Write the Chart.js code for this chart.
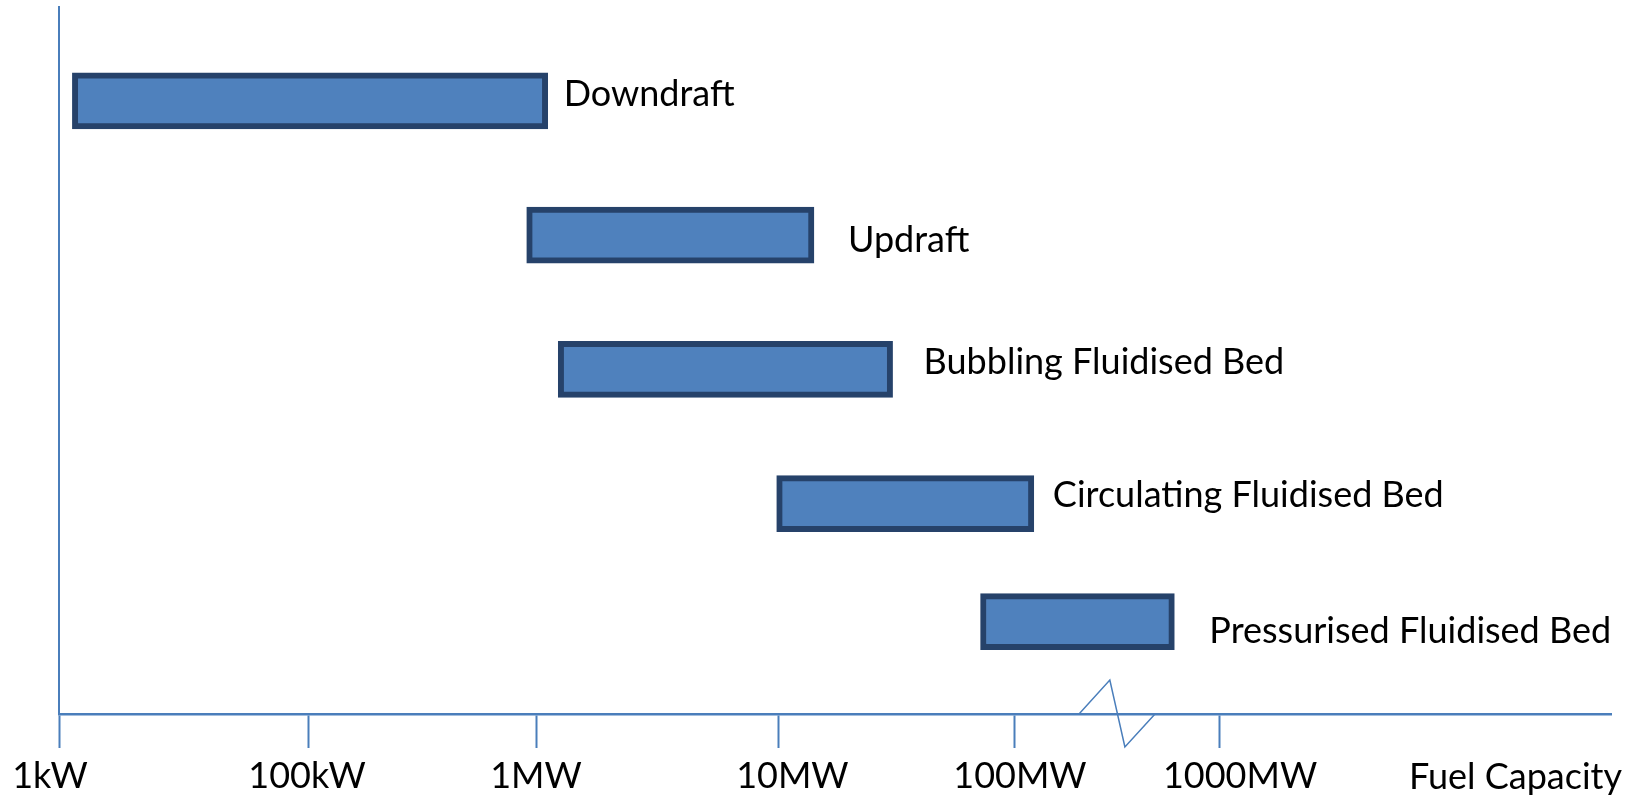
<!DOCTYPE html>
<html>
<head>
<meta charset="utf-8">
<title>Gasifier types by fuel capacity</title>
<style>
  html, body { margin: 0; padding: 0; background: #ffffff; }
  #wrap { width: 1632px; height: 800px; }
</style>
<script src="https://cdn.jsdelivr.net/npm/chart.js@4.4.1/dist/chart.umd.min.js"></script>
</head>
<body>
<div id="wrap"><canvas id="c" width="1632" height="800"></canvas></div>
<script>
// Gasifier types and the span of fuel capacity each one covers.
// Capacity sits on a schematic scale: one unit per tick step (1kW ... 1000MW).
const gasifiers = ['Downdraft', 'Updraft', 'Bubbling Fluidised Bed', 'Circulating Fluidised Bed', 'Pressurised Fluidised Bed'];
const rangeFrom = [0.056, 1.957, 2.089, 3.003, 3.856];
const rangeTo   = [2.045, 3.159, 3.488, 4.079, 4.667];
const rowPos    = [0, 1, 2, 3, 3.88];

const tickLabels = ['1kW', '100kW', '1MW', '10MW', '100MW', '1000MW'];
const tickValues = [0, 1.046, 1.996, 3.010, 4.0, 4.854];
const axisTitle  = 'Fuel Capacity';

const AXIS_BLUE = '#4A7EBB';
const FONT = '"Lato", "Open Sans", sans-serif';

// Type name written just to the right of each bar
const barNames = {
  id: 'barNames',
  afterDatasetsDraw(chart, args, opts) {
    const ctx = chart.ctx;
    const meta = chart.getDatasetMeta(0);
    ctx.save();
    ctx.font = opts.size + 'px ' + FONT;
    ctx.fillStyle = opts.color;
    ctx.textAlign = 'left';
    ctx.textBaseline = 'alphabetic';
    meta.data.forEach((bar, i) => {
      const n = opts.nudge[i] || [0, 0];
      ctx.fillText(gasifiers[i], bar.x + opts.gap + n[0], bar.y + opts.size * 0.36 + n[1]);
    });
    ctx.restore();
  }
};

// Small sideways shifts of the tick labels under the axis
const tickLabelShift = {
  id: 'tickLabelShift',
  beforeDraw(chart, args, opts) {
    const items = chart.scales.x.getLabelItems(chart.chartArea);
    if (items._shifted) return;
    items.forEach((it, i) => { it.options.translation[0] += opts.shift[i] || 0; });
    items._shifted = true;
  }
};

// Axis title at the right end, and the scale-break mark between 100MW and 1000MW
const axisExtras = {
  id: 'axisExtras',
  afterDraw(chart, args, opts) {
    const ctx = chart.ctx;
    const xs = chart.scales.x;
    const yAxis = xs.top;
    ctx.save();
    ctx.font = opts.size + 'px ' + FONT;
    ctx.fillStyle = '#000000';
    ctx.textAlign = 'right';
    ctx.textBaseline = 'alphabetic';
    ctx.fillText(axisTitle, chart.chartArea.right + 11, yAxis + 75);

    ctx.strokeStyle = AXIS_BLUE;
    ctx.lineWidth = 1.5;
    ctx.beginPath();
    opts.breakAt.forEach((v, i) => {
      const px = xs.getPixelForValue(v);
      const py = yAxis + opts.breakRise[i];
      if (i === 0) ctx.moveTo(px, py); else ctx.lineTo(px, py);
    });
    ctx.stroke();
    ctx.restore();
  }
};

new Chart(document.getElementById('c'), {
  type: 'bar',
  data: {
    datasets: [{
      label: 'Fuel capacity range',
      data: gasifiers.map((g, i) => ({ x: [rangeFrom[i], rangeTo[i]], y: rowPos[i] })),
      backgroundColor: '#4F81BD',
      borderColor: '#26426A',
      borderWidth: 6,
      borderSkipped: false,
      barThickness: 56
    }]
  },
  options: {
    indexAxis: 'y',
    responsive: false,
    animation: false,
    devicePixelRatio: 1,
    layout: { padding: { left: 59, right: 21, top: 7, bottom: 0 } },
    plugins: {
      legend: { display: false },
      tooltip: { enabled: false },
      barNames: { size: 36, color: '#000000', gap: 16,
        nudge: [[0, -8], [18, 4], [15, -8], [3, -10], [19, 8]] },
      tickLabelShift: { shift: [-9, -2, 0, 14, 5, 21] },
      axisExtras: { size: 36, breakAt: [4.268, 4.397, 4.460, 4.586], breakRise: [0, -34, 33, 0] }
    },
    scales: {
      x: {
        type: 'linear',
        position: 'bottom',
        min: 0,
        max: 6.494,
        afterBuildTicks: (scale) => { scale.ticks = tickValues.map(v => ({ value: v })); },
        afterFit: (scale) => { scale.height = 86; },
        ticks: {
          autoSkip: false,
          maxRotation: 0,
          padding: 7,
          color: '#000000',
          font: { family: FONT, size: 36 },
          callback: (v, i) => tickLabels[i]
        },
        grid: {
          display: true,
          drawOnChartArea: false,
          drawTicks: true,
          tickLength: 34,
          tickColor: AXIS_BLUE,
          tickWidth: 2
        },
        border: { display: true, color: AXIS_BLUE, width: 2.5 }
      },
      y: {
        type: 'linear',
        reverse: true,
        offset: false,
        min: -0.7,
        max: 4.568,
        afterFit: (scale) => { scale.width = 0; },
        ticks: { display: false },
        grid: { display: false },
        border: { display: true, color: AXIS_BLUE, width: 2 }
      }
    }
  },
  plugins: [tickLabelShift, barNames, axisExtras]
});
</script>
</body>
</html>
